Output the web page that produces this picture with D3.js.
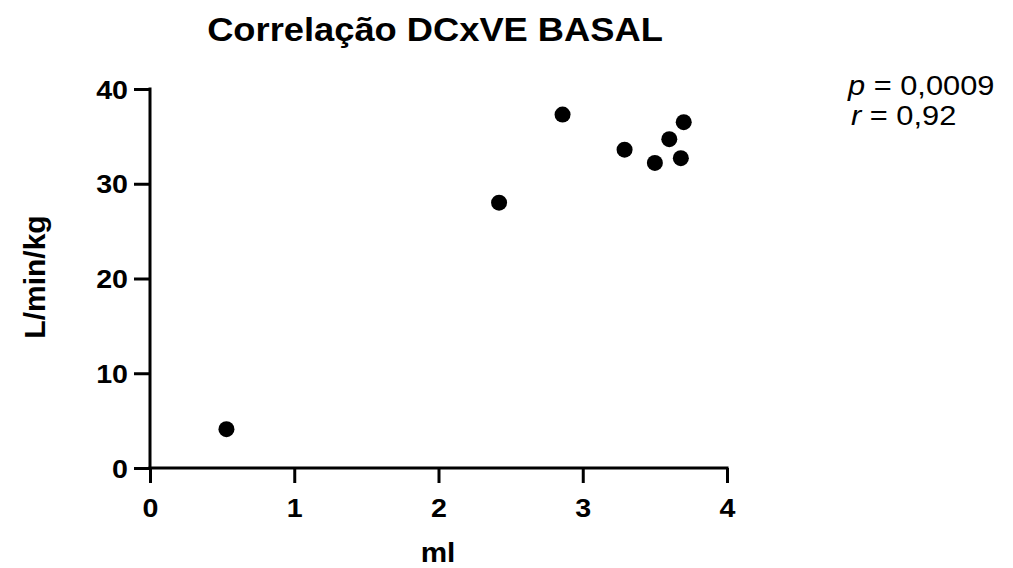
<!DOCTYPE html>
<html><head><meta charset="utf-8">
<script src="https://cdn.jsdelivr.net/npm/d3@7"></script>
<style>body{margin:0;background:#fff;}svg{display:block;}</style>
</head><body>
<svg id="c" width="1013" height="568"></svg>
<script>
const xValues = [0.53, 2.42, 2.86, 3.29, 3.50, 3.60, 3.68, 3.70];
const yValues = [4.1, 28.0, 37.3, 33.6, 32.2, 34.7, 32.7, 36.5];
const xTicks = [0, 1, 2, 3, 4];
const yTicks = [0, 10, 20, 30, 40];
const title = "Correlação DCxVE BASAL";
const xLabel = "ml";
const yLabel = "L/min/kg";

const svg = d3.select("#c");
const font = "Arial, 'Liberation Sans', sans-serif";
const SX = 1.1;
const x = d3.scaleLinear().domain([0, 4]).range([150, 727]);
const y = d3.scaleLinear().domain([0, 40]).range([468, 89]);

const xAxis = svg.append("g").attr("transform", "translate(0,468)")
  .call(d3.axisBottom(x).tickValues(xTicks).tickFormat(d3.format("d")).tickSize(15).tickSizeOuter(0));
const yAxis = svg.append("g").attr("transform", "translate(150,0)")
  .call(d3.axisLeft(y).tickValues(yTicks).tickFormat(d3.format("d")).tickSize(16).tickSizeOuter(0));
[xAxis, yAxis].forEach(a => {
  a.attr("font-family", null).attr("font-size", null);
  a.selectAll("path,line").attr("stroke", "#000").attr("stroke-width", 3);
  a.selectAll("text").attr("font-family", font).attr("font-size", 26).attr("font-weight", "bold").attr("fill", "#000");
});
xAxis.selectAll(".tick text").attr("y", null).attr("dy", null)
  .attr("transform", "translate(0,49) scale(" + SX + ",1)");
yAxis.selectAll(".tick text").attr("x", null).attr("dy", "0.35em")
  .attr("transform", "translate(-22,0) scale(" + SX + ",1)");
xAxis.select("path.domain").attr("d", "M148.5,0H728.5");
yAxis.select("path.domain").attr("d", "M0,469.5V87.5");

svg.append("g").selectAll("circle").data(xValues).join("circle")
  .attr("cx", (d) => x(d)).attr("cy", (d, i) => y(yValues[i])).attr("r", 8).attr("fill", "#000");

function label(tx, ty, size, anchor, weight) {
  return svg.append("text").attr("transform", `translate(${tx},${ty}) scale(${SX},1)`)
    .attr("text-anchor", anchor).attr("font-family", font).attr("font-size", size)
    .attr("font-weight", weight);
}
label(435, 41, 33, "middle", "bold").text(title);
label(438, 562, 27, "middle", "bold").text(xLabel);
svg.append("text").attr("transform", "translate(45,277) rotate(-90)").attr("text-anchor", "middle")
  .attr("font-family", font).attr("font-size", 30).attr("font-weight", "bold").text(yLabel);

const t1 = label(848, 95, 28, "start", "normal");
t1.append("tspan").attr("font-style", "italic").text("p");
t1.append("tspan").text(" = 0,0009");
const t2 = label(851, 125, 28, "start", "normal");
t2.append("tspan").attr("font-style", "italic").text("r");
t2.append("tspan").text(" = 0,92");
</script>
</body></html>
